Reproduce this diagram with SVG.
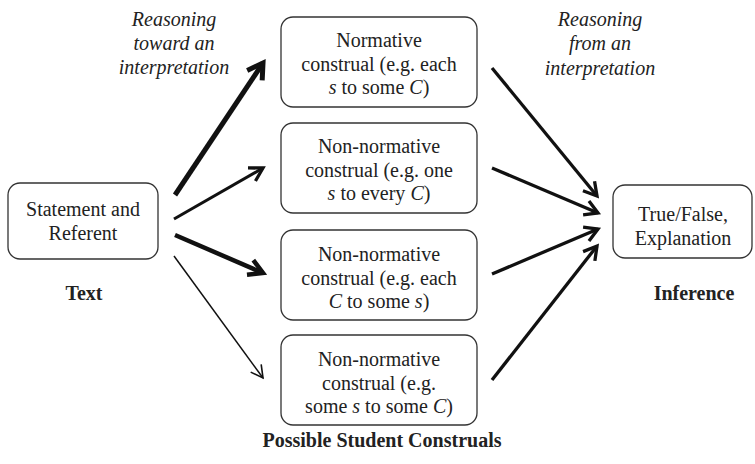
<svg xmlns="http://www.w3.org/2000/svg" width="755" height="464" viewBox="0 0 755 464">
<style>
.box{fill:#fff;stroke:#333;stroke-width:1.3}
.t{font-family:'Liberation Serif','Times New Roman',Tinos,'DejaVu Serif',serif;font-size:20px;fill:#222;text-anchor:middle}
.b{font-weight:bold}
.i{font-style:italic}
.m{font-style:italic}
.c{fill:none;stroke:#111;stroke-linecap:butt}
</style>
<defs>
<marker id="h5" markerUnits="userSpaceOnUse" orient="auto" overflow="visible" refX="0" refY="0" markerWidth="1" markerHeight="1"><path d="M-15,-9 L0,0 L-15,9" fill="none" stroke="#111" stroke-width="5"/></marker>
<marker id="h4" markerUnits="userSpaceOnUse" orient="auto" overflow="visible" refX="0" refY="0" markerWidth="1" markerHeight="1"><path d="M-14,-8 L0,0 L-14,8" fill="none" stroke="#111" stroke-width="4.5"/></marker>
<marker id="h3" markerUnits="userSpaceOnUse" orient="auto" overflow="visible" refX="0" refY="0" markerWidth="1" markerHeight="1"><path d="M-13,-7.5 L0,0 L-13,7.5" fill="none" stroke="#111" stroke-width="3.3"/></marker>
<marker id="h1" markerUnits="userSpaceOnUse" orient="auto" overflow="visible" refX="0" refY="0" markerWidth="1" markerHeight="1"><path d="M-12,-6.5 L0,0 L-12,6.5" fill="none" stroke="#111" stroke-width="1.6"/></marker>
</defs>
<rect width="755" height="464" fill="#fff"/>

<g id="labels">
<text class="t i" x="174" y="26" font-size="19">Reasoning</text>
<text class="t i" x="174" y="50" font-size="19">toward an</text>
<text class="t i" x="174" y="74" font-size="19">interpretation</text>
<text class="t i" x="600" y="26" font-size="19">Reasoning</text>
<text class="t i" x="600" y="50" font-size="19">from an</text>
<text class="t i" x="600" y="75" font-size="19">interpretation</text>
<text class="t b" x="84" y="300">Text</text>
<text class="t b" x="694" y="300">Inference</text>
<text class="t b" x="382" y="447">Possible Student Construals</text>
</g>

<g id="connectors">
<line class="c" x1="175" y1="195" x2="263" y2="63" stroke-width="5" marker-end="url(#h5)"/>
<line class="c" x1="174" y1="219" x2="263" y2="168" stroke-width="3" marker-end="url(#h3)"/>
<line class="c" x1="175" y1="235" x2="263" y2="273" stroke-width="4.5" marker-end="url(#h4)"/>
<line class="c" x1="174" y1="256" x2="263" y2="378" stroke-width="1.5" marker-end="url(#h1)"/>
<line class="c" x1="492" y1="68" x2="597" y2="196" stroke-width="3.3" marker-end="url(#h3)"/>
<line class="c" x1="492" y1="168" x2="598" y2="213" stroke-width="3.3" marker-end="url(#h3)"/>
<line class="c" x1="492" y1="274" x2="598" y2="229" stroke-width="3.3" marker-end="url(#h3)"/>
<line class="c" x1="492" y1="380" x2="597" y2="246" stroke-width="3.3" marker-end="url(#h3)"/>
</g>

<g id="text-node">
<rect class="box" x="8" y="183" width="150" height="76" rx="12"/>
<text class="t" x="83" y="216">Statement and</text>
<text class="t" x="83" y="240">Referent</text>
</g>

<g id="normative">
<rect class="box" x="281" y="17" width="196" height="90" rx="12"/>
<text class="t" x="379" y="47">Normative</text>
<text class="t" x="379" y="71">construal (e.g. each</text>
<text class="t" x="379" y="94"><tspan class="m">s</tspan> to some <tspan class="m">C</tspan>)</text>
</g>

<g id="nonnormative1">
<rect class="box" x="281" y="123" width="196" height="90" rx="12"/>
<text class="t" x="379" y="153">Non-normative</text>
<text class="t" x="379" y="177">construal (e.g. one</text>
<text class="t" x="379" y="200"><tspan class="m">s</tspan> to every <tspan class="m">C</tspan>)</text>
</g>

<g id="nonnormative2">
<rect class="box" x="281" y="230" width="196" height="90" rx="12"/>
<text class="t" x="379" y="261">Non-normative</text>
<text class="t" x="379" y="285">construal (e.g. each</text>
<text class="t" x="379" y="308"><tspan class="m">C</tspan> to some <tspan class="m">s</tspan>)</text>
</g>

<g id="nonnormative3">
<rect class="box" x="281" y="335" width="196" height="90" rx="12"/>
<text class="t" x="379" y="366">Non-normative</text>
<text class="t" x="379" y="390">construal (e.g.</text>
<text class="t" x="379" y="413">some <tspan class="m">s</tspan> to some <tspan class="m">C</tspan>)</text>
</g>

<g id="inference-node">
<rect class="box" x="613" y="185" width="139" height="73" rx="12"/>
<text class="t" x="683" y="221">True/False,</text>
<text class="t" x="683" y="245">Explanation</text>
</g>
</svg>
